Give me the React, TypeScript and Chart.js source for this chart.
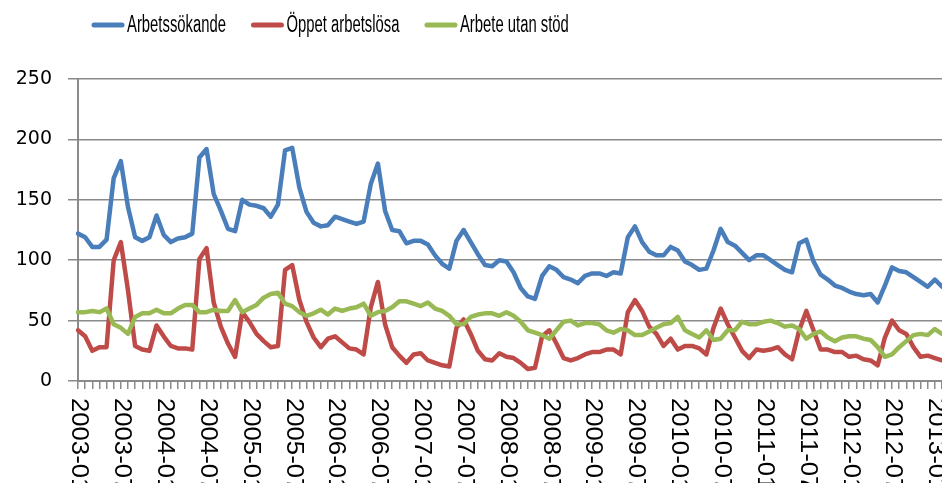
import React, { useEffect, useRef } from "react";
import { Chart, registerables } from "chart.js";

Chart.register(...registerables);

// Categories: monthly, 2003-01 .. 2013-02
const startYear = 2003;
const monthCount = 122;
const months: string[] = [];
for (let k = 0; k < monthCount; k++) {
  const y = startYear + Math.floor(k / 12);
  const m = (k % 12) + 1;
  months.push(`${y}-${m < 10 ? "0" + m : m}`);
}

const xTickLabels = [
  "2003-01", "2003-07", "2004-01", "2004-07", "2005-01", "2005-07", "2006-01",
  "2006-07", "2007-01", "2007-07", "2008-01", "2008-07", "2009-01", "2009-07",
  "2010-01", "2010-07", "2011-01", "2011-07", "2012-01", "2012-07", "2013-01",
];

const seriesNames = ["Arbetssökande", "Öppet arbetslösa", "Arbete utan stöd"];

const arbetssokande = [
  122, 119, 111, 111, 117, 168, 182, 144, 119, 116, 119, 137,
  121, 115, 118, 119, 122, 185, 192, 155, 141, 126, 124, 150,
  146, 145, 143, 136, 146, 191, 193, 160, 140, 131, 128, 129,
  136, 134, 132, 130, 132, 163, 180, 141, 125, 124, 114, 116,
  116, 113, 104, 97, 93, 116, 125, 115, 105, 96, 95, 100,
  99, 90, 77, 70, 68, 87, 95, 92, 86, 84, 81, 87,
  89, 89, 87, 90, 89, 119, 128, 115, 107, 104, 104, 111,
  108, 99, 96, 92, 93, 108, 126, 115, 112, 106, 100, 104,
  104, 100, 96, 92, 90, 114, 117, 99, 88, 84, 79, 77,
  74, 72, 71, 72, 65, 79, 94, 91, 90, 86, 82, 78,
  84, 78,
];

const oppetArbetslosa = [
  42, 37, 25, 28, 28, 100, 115, 75, 29, 26, 25, 46,
  37, 29, 27, 27, 26, 101, 110, 65, 45, 31, 20, 57,
  49, 39, 33, 28, 29, 92, 96, 67, 49, 36, 28, 35,
  37, 32, 27, 26, 22, 61, 82, 47, 28, 21, 15, 22,
  23, 17, 15, 13, 12, 44, 51, 39, 25, 18, 17, 23,
  20, 19, 15, 10, 11, 37, 42, 31, 19, 17, 19, 22,
  24, 24, 26, 26, 22, 57, 67, 58, 45, 39, 29, 35,
  26, 29, 29, 27, 22, 44, 60, 47, 36, 25, 19, 26,
  25, 26, 28, 22, 18, 42, 58, 42, 26, 26, 24, 24,
  20, 21, 18, 17, 13, 36, 50, 42, 39, 28, 20, 21,
  19, 17,
];

const arbeteUtanStod = [
  57, 57, 58, 57, 60, 47, 44, 39, 53, 56, 56, 59,
  56, 56, 60, 63, 63, 57, 57, 59, 58, 58, 67, 57,
  60, 63, 69, 72, 73, 64, 62, 57, 54, 56, 59, 55,
  60, 58, 60, 61, 64, 54, 57, 58, 61, 66, 66, 64,
  62, 65, 60, 58, 54, 47, 47, 53, 55, 56, 56, 54,
  57, 54, 49, 42, 40, 38, 35, 42, 49, 50, 46, 48,
  48, 47, 42, 40, 43, 42, 38, 38, 41, 44, 47, 48,
  53, 42, 39, 36, 42, 34, 35, 42, 42, 49, 47, 47,
  49, 50, 48, 45, 46, 43, 35, 39, 41, 36, 33, 36,
  37, 37, 35, 34, 28, 20, 22, 28, 33, 38, 39, 38,
  43, 39,
];

const yTicks = [0, 50, 100, 150, 200, 250];

const colors = ["#4A7EBB", "#BE4B48", "#98B954"];
const gridColor = "#8a8a8a";

const customLegend = {
  id: "customLegend",
  afterDraw(chart: any) {
    const ctx = chart.ctx;
    ctx.save();
    const sx = 0.645;
    ctx.font = "23px 'Liberation Sans', Arial, sans-serif";
    ctx.textBaseline = "middle";
    let x = 92;
    const y = 25;
    chart.data.datasets.forEach((ds: any) => {
      ctx.strokeStyle = ds.borderColor;
      ctx.lineWidth = 5;
      ctx.lineCap = "round";
      ctx.beginPath();
      ctx.moveTo(x + 2, y);
      ctx.lineTo(x + 30, y);
      ctx.stroke();
      const tx = x + 35;
      const w = ctx.measureText(ds.label).width * sx;
      ctx.save();
      ctx.translate(tx, y + 1);
      ctx.scale(sx, 1);
      ctx.fillStyle = "#000";
      ctx.fillText(ds.label, 0, 0);
      ctx.restore();
      x = tx + w + 25.5;
    });
    ctx.restore();
  },
};

const rotatedXLabels = {
  id: "rotatedXLabels",
  afterDraw(chart: any) {
    const ctx = chart.ctx;
    const xs = chart.scales.x;
    const top = chart.chartArea.bottom + 17;
    ctx.save();
    ctx.font = "24px 'Liberation Sans', Arial, sans-serif";
    ctx.fillStyle = "#000";
    ctx.textAlign = "left";
    ctx.textBaseline = "middle";
    xTickLabels.forEach((lab) => {
      const idx = months.indexOf(lab);
      if (idx < 0) return;
      const px = xs.getPixelForValue(idx);
      ctx.save();
      ctx.translate(px + 1, top);
      ctx.rotate(Math.PI / 2);
      ctx.scale(1.07, 1);
      ctx.fillText(lab, 0, 0);
      ctx.restore();
    });
    ctx.restore();
  },
};

export default function App() {
  const ref = useRef<HTMLCanvasElement | null>(null);

  useEffect(() => {
    document.body.style.margin = "0";
    if (!ref.current) return;
    const chart = new Chart(ref.current, {
      type: "line",
      data: {
        labels: months,
        datasets: [
          {
            label: seriesNames[0],
            data: arbetssokande,
            borderColor: colors[0],
            backgroundColor: colors[0],
            order: 3,
          },
          {
            label: seriesNames[1],
            data: oppetArbetslosa,
            borderColor: colors[1],
            backgroundColor: colors[1],
            order: 2,
          },
          {
            label: seriesNames[2],
            data: arbeteUtanStod,
            borderColor: colors[2],
            backgroundColor: colors[2],
            order: 1,
          },
        ],
      },
      options: {
        responsive: false,
        animation: false,
        layout: { padding: { top: 79, right: 0, bottom: 94, left: 0 } },
        elements: {
          line: {
            borderWidth: 4.5,
            tension: 0,
            borderJoinStyle: "round",
            borderCapStyle: "round",
          },
          point: { radius: 0, hoverRadius: 0 },
        },
        plugins: {
          legend: { display: false },
          tooltip: { enabled: false },
        },
        scales: {
          x: {
            type: "category",
            offset: false,
            ticks: { display: false },
            grid: {
              display: true,
              drawOnChartArea: false,
              drawTicks: true,
              tickLength: 8,
              color: gridColor,
              lineWidth: 1.5,
            },
            border: { display: true, color: gridColor, width: 2 },
          },
          y: {
            min: yTicks[0],
            max: yTicks[yTicks.length - 1],
            afterBuildTicks: (scale: any) => {
              scale.ticks = yTicks.map((v) => ({ value: v }));
            },
            afterFit: (scale: any) => {
              scale.width = 78;
            },
            ticks: {
              padding: 16,
              color: "#000",
              font: { family: "'DejaVu Sans', sans-serif", size: 19 },
            },
            grid: {
              color: gridColor,
              lineWidth: 1.5,
              drawTicks: true,
              tickLength: 10,
            },
            border: { display: true, color: gridColor, width: 2 },
          },
        },
      },
      plugins: [customLegend, rotatedXLabels],
    });
    return () => chart.destroy();
  }, []);

  return (
    <div style={{ width: 942, height: 483, overflow: "hidden", background: "#fff" }}>
      <canvas ref={ref} width={942} height={483} style={{ display: "block" }} />
    </div>
  );
}
